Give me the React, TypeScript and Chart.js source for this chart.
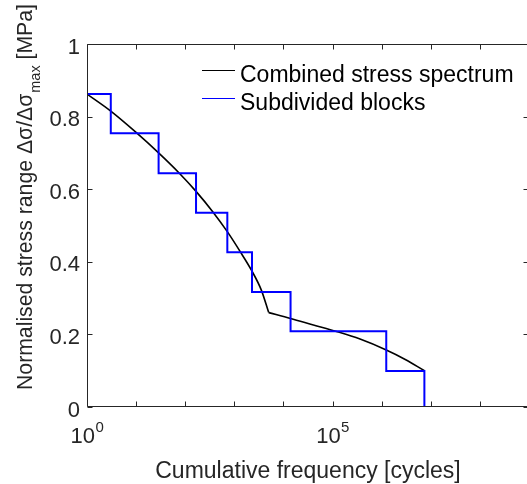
import React, { useEffect, useRef } from "react";
import { Chart, registerables } from "chart.js";

Chart.register(...registerables);

// Combined stress spectrum (cycles, normalised stress range), two branches meeting at the kink
const spectrumUpperCycles = [1, 3.05, 9.86, 28.7, 75.9, 166, 363, 719, 1288, 2291, 3548, 5012];
const spectrumUpperStress = [0.862, 0.815, 0.757, 0.7, 0.644, 0.594, 0.538, 0.483, 0.43, 0.374, 0.322, 0.26];
const spectrumLowerCycles = [5012, 13960, 40700, 120000, 363000, 1240000, 3020000, 7410000];
const spectrumLowerStress = [0.26, 0.244, 0.226, 0.208, 0.187, 0.157, 0.131, 0.1];

// Subdivided blocks: level i spans blockEdges[i] .. blockEdges[i+1]
const blockEdges = [1, 3.05, 28.7, 166, 720, 2290, 13960, 1240000, 7410000];
const blockLevels = [0.862, 0.754, 0.644, 0.535, 0.426, 0.317, 0.209, 0.099];

const yTicks = [0, 0.2, 0.4, 0.6, 0.8, 1];
const yTickLabels = ["0", "0.2", "0.4", "0.6", "0.8", "1"];
const xTicks = [1, 1e1, 1e2, 1e3, 1e4, 1e5, 1e6, 1e7, 1e8, 1e9];
const xLabelValues = [1, 1e5];
const xLabelBase = ["10", "10"];
const xLabelExp = ["0", "5"];

const seriesNames = ["Combined stress spectrum", "Subdivided blocks"];
const seriesColors = ["#000000", "#0000ff"];
const xTitle = "Cumulative frequency [cycles]";
const yTitleMain = "Normalised stress range \u0394\u03c3/\u0394\u03c3";
const yTitleSub = "max";
const yTitleEnd = " [MPa]";

const FONT = '"Liberation Sans", Arial, Helvetica, sans-serif';
const AXIS_COLOR = "#262626";

const decorPlugin = {
  id: "decor",
  afterDraw(chart: any) {
    const ctx = chart.ctx as CanvasRenderingContext2D;
    const xs = chart.scales.x;
    const ys = chart.scales.y;
    const a = chart.chartArea;
    const L = Math.round(a.left) + 0.5;
    const R = Math.round(a.right) - 0.5;
    const T = Math.round(a.top) + 0.5;
    const B = Math.round(a.bottom) - 0.5;
    ctx.save();
    ctx.strokeStyle = AXIS_COLOR;
    ctx.lineWidth = 1;
    ctx.beginPath();
    ctx.moveTo(L, T);
    ctx.lineTo(R, T);
    ctx.lineTo(R, B);
    ctx.lineTo(L, B);
    ctx.closePath();
    ctx.stroke();
    const tl = 5;
    ctx.beginPath();
    yTicks.forEach((v) => {
      const y = Math.round(ys.getPixelForValue(v)) + 0.5;
      ctx.moveTo(L, y);
      ctx.lineTo(L + tl, y);
      ctx.moveTo(R, y);
      ctx.lineTo(R - tl, y);
    });
    xTicks.forEach((v) => {
      const x = Math.round(xs.getPixelForValue(v)) + 0.5;
      ctx.moveTo(x, B);
      ctx.lineTo(x, B - tl);
      ctx.moveTo(x, T);
      ctx.lineTo(x, T + tl);
    });
    ctx.stroke();

    ctx.fillStyle = AXIS_COLOR;
    // y tick labels
    ctx.font = `22px ${FONT}`;
    ctx.textAlign = "right";
    ctx.textBaseline = "alphabetic";
    yTicks.forEach((v, i) => {
      const y = ys.getPixelForValue(v);
      ctx.fillText(yTickLabels[i], a.left - 7, y + 9.5);
    });
    // x tick labels with superscripts
    xLabelValues.forEach((v, i) => {
      const x = xs.getPixelForValue(v);
      ctx.font = `22px ${FONT}`;
      const wb = ctx.measureText(xLabelBase[i]).width;
      ctx.font = `15px ${FONT}`;
      const we = ctx.measureText(xLabelExp[i]).width;
      const start = x - (wb + we) / 2;
      ctx.textAlign = "left";
      ctx.font = `22px ${FONT}`;
      ctx.fillText(xLabelBase[i], start, 443);
      ctx.font = `15px ${FONT}`;
      ctx.fillText(xLabelExp[i], start + wb + 0.5, 432);
    });
    // x title
    ctx.font = `23px ${FONT}`;
    ctx.textAlign = "center";
    ctx.fillText(xTitle, (a.left + a.right) / 2, 478);
    // y title (rotated), fitted between y=390 and y=5
    ctx.save();
    ctx.translate(31.5, 390);
    ctx.rotate(-Math.PI / 2);
    const mainSize = 22;
    const subSize = 15;
    ctx.font = `${mainSize}px ${FONT}`;
    const w1 = ctx.measureText(yTitleMain).width;
    const w3 = ctx.measureText(yTitleEnd).width;
    ctx.font = `${subSize}px ${FONT}`;
    const w2 = ctx.measureText(yTitleSub).width;
    const total = w1 + w2 + w3;
    const k = Math.min(1.1, 385 / total);
    ctx.scale(k, 1);
    let px = 0;
    ctx.textAlign = "left";
    ctx.font = `${mainSize}px ${FONT}`;
    ctx.fillText(yTitleMain, px, 0);
    px += w1;
    ctx.font = `${subSize}px ${FONT}`;
    ctx.fillText(yTitleSub, px + 1, 8);
    px += w2 + 1;
    ctx.font = `${mainSize}px ${FONT}`;
    ctx.fillText(yTitleEnd, px, 0);
    ctx.restore();

    // legend
    ctx.textAlign = "left";
    ctx.font = `23px ${FONT}`;
    seriesNames.forEach((name, i) => {
      const ly = 70.5 + i * 28;
      ctx.strokeStyle = seriesColors[i];
      ctx.lineWidth = 1.2;
      ctx.beginPath();
      ctx.moveTo(202, ly);
      ctx.lineTo(235, ly);
      ctx.stroke();
      ctx.fillStyle = "#000000";
      ctx.fillText(name, 240, ly + 11);
    });
    ctx.restore();
  },
};

export default function App() {
  const ref = useRef<HTMLCanvasElement | null>(null);
  useEffect(() => {
    document.body.style.margin = "0";
    const canvas = ref.current;
    if (!canvas) return;
    const upper = spectrumUpperCycles.map((c, i) => ({ x: c, y: spectrumUpperStress[i] }));
    const lower = spectrumLowerCycles.map((c, i) => ({ x: c, y: spectrumLowerStress[i] }));
    const blocks: { x: number; y: number }[] = [];
    blockLevels.forEach((lvl, i) => {
      blocks.push({ x: blockEdges[i], y: lvl });
      blocks.push({ x: blockEdges[i + 1], y: lvl });
    });
    blocks.push({ x: blockEdges[blockEdges.length - 1], y: 0 });

    const curve = {
      showLine: true,
      borderColor: seriesColors[0],
      borderWidth: 1.6,
      pointRadius: 0,
      cubicInterpolationMode: "monotone",
      order: 1,
    };

    const chart = new Chart(canvas, {
      type: "scatter",
      data: {
        datasets: [
          { ...curve, label: seriesNames[0], data: upper },
          { ...curve, label: seriesNames[0], data: lower },
          {
            label: seriesNames[1],
            data: blocks,
            showLine: true,
            borderColor: seriesColors[1],
            borderWidth: 2,
            pointRadius: 0,
            order: 0,
          },
        ],
      },
      options: {
        responsive: false,
        animation: false,
        devicePixelRatio: 1,
        layout: { padding: { left: 87, top: 44, right: 2, bottom: 77 } },
        plugins: { legend: { display: false }, tooltip: { enabled: false } },
        scales: {
          x: { type: "logarithmic", min: 1, max: 1e9, display: false },
          y: { type: "linear", min: 0, max: 1, display: false },
        },
      },
      plugins: [decorPlugin],
    } as any);
    return () => chart.destroy();
  }, []);
  return (
    <div style={{ width: 527, height: 484, overflow: "hidden", background: "#fff" }}>
      <canvas ref={ref} width={531} height={484} style={{ display: "block" }} />
    </div>
  );
}
